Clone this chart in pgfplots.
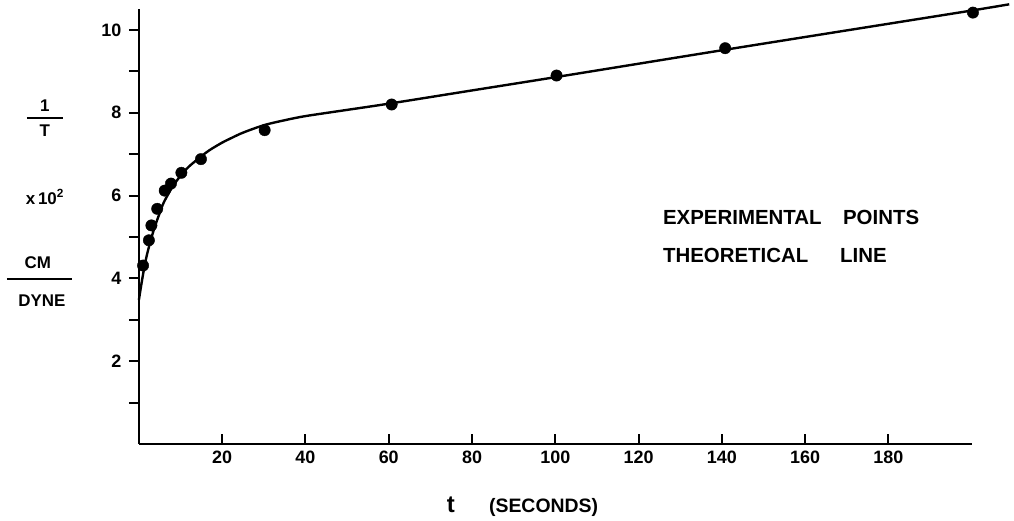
\documentclass[border=0pt]{standalone}
\usepackage{fontspec}
\setmainfont{Liberation Sans}
\usepackage{pgfplots}
\pgfplotsset{compat=1.18}

\begin{document}
\begin{tikzpicture}[x=1bp,y=1bp]
\useasboundingbox (-138.9,-77) rectangle (875.1,444);
\begin{axis}[
    at={(0,0)}, anchor=south west,
    scale only axis,
    width=832.8bp, height=434.7bp,
    xmin=0, xmax=200, ymin=0, ymax=10.5,
    clip=false,
    axis lines=left,
    axis line style={-, line width=2.4bp},
    xtick={20,40,...,180},
    ytick={1,...,10},
    yticklabels={,2,,4,,6,,8,,10},
    tick align=inside,
    major tick length=10bp,
    tick style={black, line width=2bp},
    every major y tick/.append style={xshift=-10bp},
    ticklabel style={font=\bfseries\fontsize{18}{18}\selectfont},
    yticklabel style={xshift=-14bp},
    xticklabel style={yshift=-3bp},
    /pgf/number format/assume math mode=true,
]
% theoretical line
\addplot[black, line width=2.4bp, smooth, tension=0.5] coordinates {
(0,3.48) (0.5,3.8) (1,4.1) (1.5,4.37) (2,4.6) (3,4.98) (4,5.3) (5,5.58)
(6,5.84) (8,6.2) (10,6.48) (12,6.7) (15,6.95) (17,7.1) (20,7.28)
(22,7.38) (25,7.52) (30,7.7) (35,7.82) (40,7.92) (50,8.07) (60,8.22)
(80,8.54) (100,8.86) (140,9.51) (180,10.15) (200,10.47) (209,10.62)
};
% experimental points
\addplot[only marks, mark=*, mark size=5.7bp, black] coordinates {
(1,4.31) (2.4,4.92) (3,5.28) (4.4,5.68) (6.2,6.12) (7.7,6.29)
(10.2,6.55) (14.9,6.88) (30.2,7.58) (60.7,8.2) (100.3,8.9)
(140.8,9.56) (200.3,10.42)
};
\end{axis}
% y label
\begin{scope}[font=\bfseries\fontsize{17}{17}\selectfont]
\node at (-94,338) {1};
\draw[line width=2.4bp] (-112,326) -- (-76,326);
\node at (-94,313) {T};
\node at (-94,247) {x\,10\textsuperscript{2}};
\node at (-101,181) {CM};
\draw[line width=2.4bp] (-132,165) -- (-67,165);
\node at (-97,143) {DYNE};
\end{scope}
% annotation
\begin{scope}[font=\bfseries\fontsize{20.5}{20.5}\selectfont, inner sep=0pt]
\node[anchor=base west] at (524,219) {EXPERIMENTAL};
\node[anchor=base west] at (704,219) {POINTS};
\node[anchor=base west] at (524,181) {THEORETICAL};
\node[anchor=base west] at (701,181) {LINE};
\end{scope}
% x label
\node[anchor=base, inner sep=0pt, font=\bfseries\fontsize{24}{24}\selectfont] at (312,-69) {t};
\node[anchor=base west, inner sep=0pt, font=\bfseries\fontsize{19.5}{19.5}\selectfont] at (350,-69) {(SECONDS)};
\end{tikzpicture}
\end{document}
